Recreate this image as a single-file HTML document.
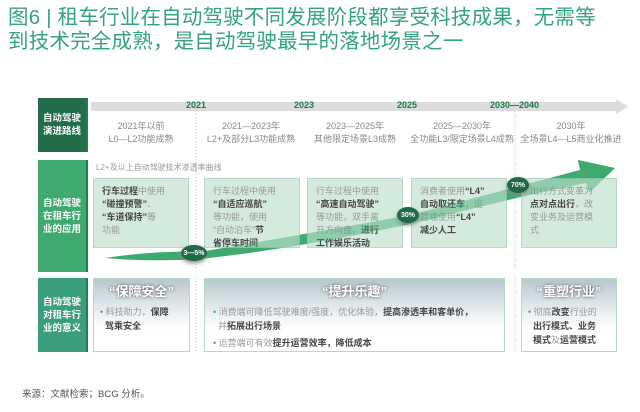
<!DOCTYPE html>
<html><head><meta charset="utf-8"><style>
body{margin:0;width:640px;height:412px;background:#fff;position:relative;overflow:hidden;font-family:"Liberation Sans","Noto Sans CJK SC",sans-serif}
.a{position:absolute}
.t{color:#33a57c;font-size:20.5px;left:8px;white-space:nowrap;letter-spacing:0.2px;line-height:24px}
.lab{position:absolute;left:38px;width:48px;color:#fff;font-weight:bold;font-size:9.5px;line-height:13px;display:flex;align-items:center;justify-content:center;text-align:center;box-shadow:2px 0 0 #2a7a50}
.yr{position:absolute;top:100px;font-size:9px;font-weight:bold;color:#1e7a4a}
.sub{position:absolute;top:120px;font-size:9px;color:#888;text-align:center;line-height:13px;width:110px}
.box{position:absolute;top:178px;height:70px;background:#d4eadd;border:1px solid #b7d9c5;font-size:9px;line-height:13px;color:#999;padding:6px 8px;box-sizing:border-box}
.box b{color:#444}
.badge{position:absolute;width:22px;height:16px;border-radius:50%;background:#1f6b47;color:#fff;font-size:7px;font-weight:bold;display:flex;align-items:center;justify-content:center;box-shadow:0 2px 4px #888}
.b3{position:absolute;top:278px;height:74px;border:1px solid #b7d9c5;background:linear-gradient(#b8c8d0 0%,#e8eef0 45%,#fff 70%);box-sizing:border-box;font-size:9px;line-height:14px;color:#999}
.b3 b{color:#444}
.h{font-size:13px;font-weight:bold;color:#fff;text-align:center;text-shadow:0 0 3px #444;margin-top:6px}
.dot{color:#3aa86c}
</style></head><body>
<div class="a t" style="top:6px">图6 | 租车行业在自动驾驶不同发展阶段都享受科技成果，无需等</div>
<div class="a t" style="top:30px">到技术完全成熟，是自动驾驶最早的落地场景之一</div>

<div class="lab" style="top:98px;height:54px;background:#226e4a">自动驾驶<br>演进路线</div>
<div class="lab" style="top:160px;height:112px;background:#3faa70">自动驾驶<br>在租车行<br>业的应用</div>
<div class="lab" style="top:278px;height:74px;background:#3a9e7a">自动驾驶<br>对租车行<br>业的意义</div>

<svg class="a" style="left:0;top:0" width="640" height="412">
<polygon points="91,102 616,102 616,99 628,106.5 616,114 616,111 91,111" fill="#dcdcdc"/>
<line x1="196" y1="111" x2="196" y2="270" stroke="#bbb" stroke-dasharray="1,2"/>
<line x1="196" y1="278" x2="196" y2="352" stroke="#bbb" stroke-dasharray="1,2"/>
<line x1="515" y1="111" x2="515" y2="270" stroke="#bbb" stroke-dasharray="1,2"/>
<line x1="515" y1="278" x2="515" y2="352" stroke="#bbb" stroke-dasharray="1,2"/>
<path d="M105,258 Q160,250 200,252 Q300,235 410,215 L520,186 L580,170 L578,160 L615,168 L590,192 L586,183 L520,197 L410,224 Q300,248 200,259 Q150,262 105,258Z" fill="#3faa70"/>
</svg>

<div class="yr" style="left:186px">2021</div>
<div class="yr" style="left:294px">2023</div>
<div class="yr" style="left:397px">2025</div>
<div class="yr" style="left:490px">2030—2040</div>

<div class="sub" style="left:86px">2021年以前<br>L0—L2功能成熟</div>
<div class="sub" style="left:196px">2021—2023年<br>L2+及部分L3功能成熟</div>
<div class="sub" style="left:300px">2023—2025年<br>其他限定场景L3成熟</div>
<div class="sub" style="left:407px">2025—2030年<br>全功能L3/限定场景L4成熟</div>
<div class="sub" style="left:516px">2030年<br>全场景L4—L5商业化推进</div>

<div class="a" style="left:96px;top:162px;font-size:8px;color:#999">L2+及以上自动驾驶技术渗透率曲线</div>

<div class="box" style="left:93px;width:96px"><b>行车过程</b>中使用<br><b>“碰撞预警”</b>、<br><b>“车道保持”</b>等<br>功能</div>
<div class="box" style="left:204px;width:96px">行车过程中使用<br><b>“自适应巡航”</b><br>等功能，使用<br>“自动泊车”<b>节<br>省停车时间</b></div>
<div class="box" style="left:307px;width:96px">行车过程中使用<br><b>“高速自动驾驶”</b><br>等功能，双手离<br>开方向盘，<b>进行<br>工作娱乐活动</b></div>
<div class="box" style="left:411px;width:96px">消费者使用<b>“L4”<br>自动取还车</b>，运<br>营端使用<b>“L4”<br>减少人工</b></div>
<div class="box" style="left:521px;width:96px">出行方式变革为<br><b>点对点出行</b>，改<br>变业务及运营模<br>式</div>

<svg class="a" style="left:0;top:0" width="640" height="412">
<path d="M105,258 Q160,250 200,252 Q300,235 410,215 L520,186 L580,170 L578,160 L615,168 L590,192 L586,183 L520,197 L410,224 Q300,248 200,259 Q150,262 105,258Z" fill="#3faa70" opacity="0.45"/>
</svg>

<div class="badge" style="left:181px;top:245px;width:26px">3—5%</div>
<div class="badge" style="left:397px;top:207px">30%</div>
<div class="badge" style="left:507px;top:177px">70%</div>

<div class="b3" style="left:93px;width:97px"><div class="h">“保障安全”</div><div style="padding:6px 6px 0 6px"><span class="dot">•</span> 科技助力，<b>保障<br>&nbsp; 驾乘安全</b></div></div>
<div class="b3" style="left:204px;width:301px"><div class="h">“提升乐趣”</div><div style="padding:6px 8px 0 8px"><span class="dot">•</span> 消费端可降低驾驶难度/强度，优化体验，<b>提高渗透率和客单价，</b><br>&nbsp; 并<b>拓展出行场景</b><div style="margin-top:3px"><span class="dot">•</span> 运营端可有效<b>提升运营效率，降低成本</b></div></div></div>
<div class="b3" style="left:521px;width:96px"><div class="h">“重塑行业”</div><div style="padding:6px 6px 0 6px"><span class="dot">•</span> 彻底<b>改变</b>行业的<br>&nbsp; <b>出行模式、业务<br>&nbsp; 模式</b>及<b>运营模式</b></div></div>

<div class="a" style="left:22px;top:386px;font-size:9.5px;color:#555">来源：文献检索；BCG 分析。</div>
</body></html>
